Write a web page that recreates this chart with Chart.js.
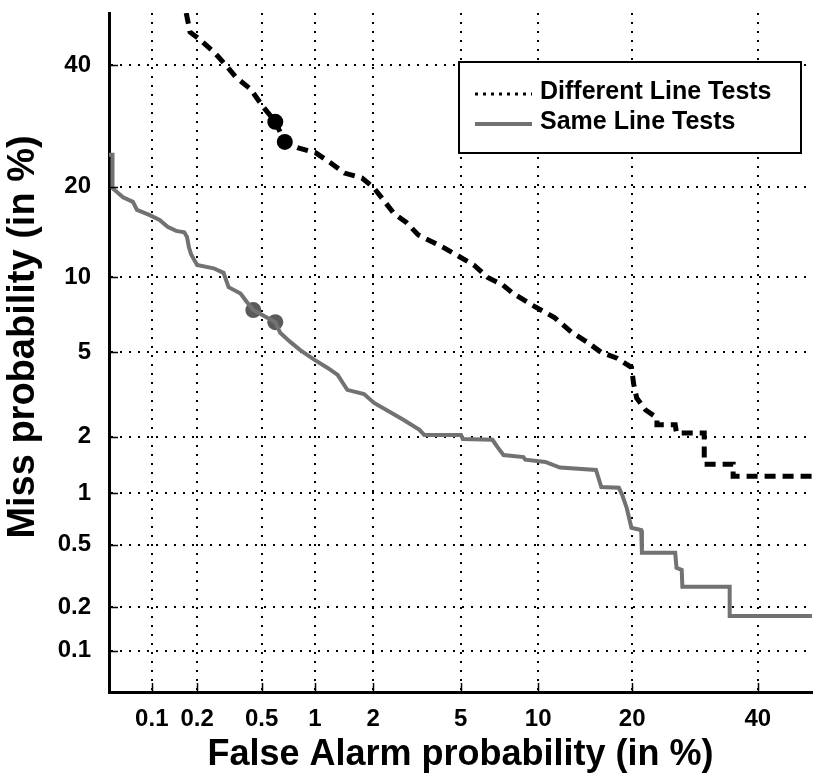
<!DOCTYPE html>
<html>
<head>
<meta charset="utf-8">
<title>DET curves</title>
<script src="https://cdn.jsdelivr.net/npm/chart.js@4.4.1/dist/chart.umd.min.js"></script>
<style>
    html, body { margin: 0; padding: 0; background: #fff; overflow: hidden; }
    #wrap { width: 820px; height: 776px; }
</style>
</head>
<body>
<div id="wrap"><canvas id="detChart" width="820" height="776"></canvas></div>
<script>
// ----------------- Data (all values in %) -----------------
const tickValues = [0.1, 0.2, 0.5, 1, 2, 5, 10, 20, 40];

// Different Line Tests
const diffFa   = [0.17, 0.18, 0.21, 0.26, 0.31, 0.35, 0.43, 0.50, 0.60, 0.68, 0.80, 1.01, 1.21, 1.43, 1.76, 2.02, 2.25, 2.51, 2.88, 3.27, 4.22, 4.93, 5.67, 6.45, 7.37, 8.1, 9.5, 11.4, 13.0, 14.6, 16.2, 18.0, 19.9, 20.2, 20.6, 21.8, 23.4, 23.4, 26.1, 26.3, 30.7, 30.7, 35.6, 35.6, 50];
const diffMiss = [50, 46.3, 44.8, 42.3, 39.7, 37.8, 35.6, 32.8, 29.9, 26.6, 25.7, 24.9, 23.4, 21.9, 21.2, 19.8, 18.2, 16.6, 15.5, 14.1, 12.8, 11.9, 11.1, 10.0, 9.4, 8.7, 7.85, 7.0, 6.1, 5.55, 5.0, 4.73, 4.3, 3.6, 3.1, 2.72, 2.49, 2.30, 2.30, 2.09, 2.09, 1.44, 1.44, 1.24, 1.24];

// Same Line Tests
const sameFa   = [0.05, 0.053, 0.053, 0.063, 0.074, 0.079, 0.096, 0.113, 0.128, 0.146, 0.165, 0.172, 0.177, 0.183, 0.20, 0.255, 0.294, 0.316, 0.374, 0.406, 0.446, 0.60, 0.64, 0.73, 0.83, 0.995, 1.17, 1.32, 1.48, 1.80, 2.02, 2.41, 2.80, 3.31, 3.48, 5.02, 5.11, 6.74, 7.05, 7.44, 8.84, 8.98, 10.6, 11.9, 15.6, 16.2, 18.3, 18.7, 19.3, 19.9, 21.2, 21.3, 26.1, 26.3, 27.1, 27.2, 35.0, 35.0, 50];
const sameMiss = [24.6, 24.6, 19.8, 18.6, 18.0, 17.0, 16.4, 15.8, 15.0, 14.55, 14.4, 13.9, 12.8, 12.1, 11.1, 10.8, 10.4, 9.2, 8.7, 8.1, 7.5, 6.7, 6.06, 5.55, 5.12, 4.64, 4.27, 3.97, 3.39, 3.24, 2.94, 2.66, 2.43, 2.17, 2.04, 2.04, 1.95, 1.93, 1.77, 1.61, 1.57, 1.52, 1.48, 1.38, 1.34, 1.08, 1.07, 0.98, 0.82, 0.63, 0.61, 0.445, 0.445, 0.358, 0.348, 0.271, 0.271, 0.174, 0.174];

// operating points
const diffMarkFa   = [0.60, 0.68];
const diffMarkMiss = [29.9, 26.6];
const sameMarkFa   = [0.446, 0.60];
const sameMarkMiss = [7.5, 6.7];

const axisMin = 0.05;
const axisMax = 50;

const FONT = "'Liberation Sans', Arial, Helvetica, sans-serif";

// ----------------- Normal deviate helpers -----------------
// inverse standard normal CDF (Acklam)
function probit(p) {
    const a = [-3.969683028665376e+01, 2.209460984245205e+02, -2.759285104469687e+02, 1.383577518672690e+02, -3.066479806614716e+01, 2.506628277459239e+00];
    const b = [-5.447609879822406e+01, 1.615858368580409e+02, -1.556989798598866e+02, 6.680131188771972e+01, -1.328068155288572e+01];
    const c = [-7.784894002430293e-03, -3.223964580411365e-01, -2.400758277161838e+00, -2.549732539343734e+00, 4.374664141464968e+00, 2.938163982698783e+00];
    const d = [7.784695709041462e-03, 3.224671290700398e-01, 2.445134137142996e+00, 3.754408661907416e+00];
    const pl = 0.02425;
    if (p < pl) {
        const q = Math.sqrt(-2 * Math.log(p));
        return (((((c[0]*q+c[1])*q+c[2])*q+c[3])*q+c[4])*q+c[5]) / ((((d[0]*q+d[1])*q+d[2])*q+d[3])*q+1);
    }
    if (p > 1 - pl) {
        const q = Math.sqrt(-2 * Math.log(1 - p));
        return -(((((c[0]*q+c[1])*q+c[2])*q+c[3])*q+c[4])*q+c[5]) / ((((d[0]*q+d[1])*q+d[2])*q+d[3])*q+1);
    }
    const q = p - 0.5, r = q * q;
    return (((((a[0]*r+a[1])*r+a[2])*r+a[3])*r+a[4])*r+a[5])*q / (((((b[0]*r+b[1])*r+b[2])*r+b[3])*r+b[4])*r+1);
}

function normCdf(z) {
    const t = 1 / (1 + 0.3275911 * Math.abs(z) / Math.SQRT2);
    const y = 1 - (((((1.061405429*t - 1.453152027)*t) + 1.421413741)*t - 0.284496736)*t + 0.254829592)*t * Math.exp(-z*z/2);
    return z >= 0 ? (1 + y) / 2 : (1 - y) / 2;
}

// Scale that places percentages on a normal deviate axis
class ProbitScale extends Chart.Scale {
    static id = 'probit';
    static defaults = {};

    parse(raw) {
        return raw == null ? null : +raw;
    }
    determineDataLimits() {
        this.min = this.options.min;
        this.max = this.options.max;
    }
    buildTicks() {
        return (this.options.ticks.values || []).map(v => ({ value: v }));
    }
    getLabelForValue(v) {
        return String(v);
    }
    _zRange() {
        const z0 = probit(this.min / 100);
        return [z0, probit(this.max / 100) - z0];
    }
    getPixelForValue(v) {
        const [z0, span] = this._zRange();
        return this.getPixelForDecimal((probit(v / 100) - z0) / span);
    }
    getValueForPixel(px) {
        const [z0, span] = this._zRange();
        return normCdf(z0 + this.getDecimalForPixel(px) * span) * 100;
    }
}
Chart.register(ProbitScale);

const toPoints = (xs, ys) => xs.map((x, i) => ({ x, y: ys[i] }));

// ----------------- Legend box, inner tick marks, y title -----------------
const detDecor = {
    id: 'detDecor',
    afterDraw(chart) {
        const ctx = chart.ctx;
        const area = chart.chartArea;
        const xs = chart.scales.x, ys = chart.scales.y;

        // short tick marks inside the frame
        ctx.save();
        ctx.strokeStyle = '#000';
        ctx.lineWidth = 1.5;
        ctx.beginPath();
        tickValues.forEach(v => {
            const px = Math.round(xs.getPixelForValue(v)) + 0.5;
            ctx.moveTo(px, area.bottom);
            ctx.lineTo(px, area.bottom - 9);
            const py = Math.round(ys.getPixelForValue(v)) + 0.5;
            ctx.moveTo(area.left, py);
            ctx.lineTo(area.left + 9, py);
        });
        ctx.stroke();
        ctx.restore();

        // y axis title
        ctx.save();
        ctx.translate(24, 337);
        ctx.rotate(-Math.PI / 2);
        ctx.font = 'bold 38px ' + FONT;
        ctx.fillStyle = '#000';
        ctx.textAlign = 'center';
        ctx.textBaseline = 'middle';
        ctx.fillText('Miss probability (in %)', 0, 0);
        ctx.restore();

        // legend
        const box = { x: 459, y: 62, w: 342, h: 91 };
        ctx.save();
        ctx.fillStyle = '#fff';
        ctx.fillRect(box.x, box.y, box.w, box.h);
        ctx.strokeStyle = '#000';
        ctx.lineWidth = 2;
        ctx.strokeRect(box.x, box.y, box.w, box.h);

        const ds = chart.data.datasets;
        const rows = [
            { label: ds[0].label, y: 92, color: '#000', width: 3, dash: [3, 5] },
            { label: ds[1].label, y: 122, color: ds[1].borderColor, width: 4, dash: [] }
        ];
        ctx.font = 'bold 25px ' + FONT;
        ctx.textBaseline = 'middle';
        ctx.textAlign = 'left';
        rows.forEach(r => {
            ctx.beginPath();
            ctx.setLineDash(r.dash);
            ctx.strokeStyle = r.color;
            ctx.lineWidth = r.width;
            ctx.moveTo(475, r.y + 2);
            ctx.lineTo(532, r.y + 2);
            ctx.stroke();
            ctx.setLineDash([]);
            ctx.fillStyle = '#000';
            ctx.fillText(r.label, 540, r.y);
        });
        ctx.restore();
    }
};

// ----------------- Chart -----------------
const gridOpts = {
    color: '#000',
    lineWidth: 2,
    drawTicks: false
};
const borderOpts = {
    display: true,
    color: '#000',
    width: 3,
    dash: [2, 7]
};

new Chart(document.getElementById('detChart').getContext('2d'), {
    type: 'line',
    data: {
        datasets: [
            {
                label: 'Different Line Tests',
                data: toPoints(diffFa, diffMiss),
                borderColor: '#000',
                borderWidth: 5,
                borderDash: [11, 7],
                pointRadius: 0,
                fill: false,
                tension: 0
            },
            {
                label: 'Same Line Tests',
                data: toPoints(sameFa, sameMiss),
                borderColor: '#727272',
                borderWidth: 4,
                pointRadius: 0,
                fill: false,
                tension: 0
            },
            {
                label: 'diff points',
                data: toPoints(diffMarkFa, diffMarkMiss),
                showLine: false,
                pointRadius: 8,
                pointBackgroundColor: '#000',
                pointBorderColor: '#000',
                pointBorderWidth: 0
            },
            {
                label: 'same points',
                data: toPoints(sameMarkFa, sameMarkMiss),
                showLine: false,
                pointRadius: 8,
                pointBackgroundColor: '#5a5a5a',
                pointBorderColor: '#5a5a5a',
                pointBorderWidth: 0
            }
        ]
    },
    options: {
        responsive: false,
        animation: false,
        layout: { padding: { top: 13, right: 0, left: 0, bottom: 0 } },
        plugins: {
            legend: { display: false },
            tooltip: { enabled: false }
        },
        scales: {
            x: {
                type: 'probit',
                position: 'bottom',
                min: axisMin,
                max: axisMax,
                grid: gridOpts,
                border: borderOpts,
                ticks: {
                    values: tickValues,
                    autoSkip: false,
                    maxRotation: 0,
                    padding: 13,
                    color: '#000',
                    font: { family: FONT, size: 24, weight: 'bold' }
                },
                title: {
                    display: true,
                    text: 'False Alarm probability (in %)',
                    color: '#000',
                    padding: { top: 0, bottom: 3 },
                    font: { family: FONT, size: 36, weight: 'bold', lineHeight: 1 }
                },
                afterFit: scale => {
                    scale.height = 84;
                    scale.paddingLeft = 0;
                    scale.paddingRight = 0;
                }
            },
            y: {
                type: 'probit',
                position: 'left',
                min: axisMin,
                max: axisMax,
                grid: gridOpts,
                border: borderOpts,
                ticks: {
                    values: tickValues,
                    autoSkip: false,
                    padding: 18,
                    color: '#000',
                    font: { family: FONT, size: 24, weight: 'bold' }
                },
                afterFit: scale => {
                    scale.width = 109;
                    // labels sit well inside the range, no extra room needed
                    scale.paddingTop = 0;
                    scale.paddingBottom = 0;
                }
            }
        }
    },
    plugins: [detDecor]
});
</script>
</body>
</html>
